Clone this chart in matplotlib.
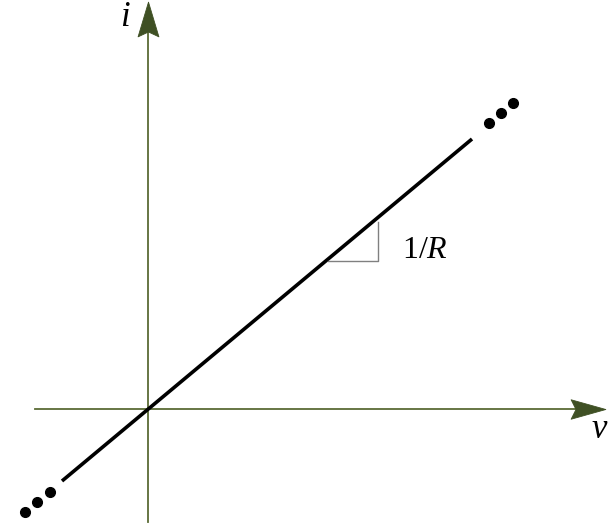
import matplotlib
matplotlib.use("Agg")
import matplotlib.pyplot as plt
from matplotlib.path import Path

plt.rcParams['font.family'] = ['Liberation Serif', 'DejaVu Serif']
plt.rcParams['mathtext.fontset'] = 'custom'
plt.rcParams['mathtext.rm'] = 'Liberation Serif'
plt.rcParams['mathtext.it'] = 'Liberation Serif:italic'

# resistor i-v characteristic, slope 1/R
line_v = [-0.86, 3.24]
line_i = [-0.72, 2.70]

# continuation dots
dots_hi_v = [3.41, 3.53, 3.65]
dots_hi_i = [2.86, 2.96, 3.06]
dots_lo_v = [-0.98, -1.11, -1.23]
dots_lo_i = [-0.83, -0.93, -1.03]

# slope triangle
tri_v = [1.80, 2.30, 2.30]
tri_i = [1.48, 1.48, 1.87]

# axis extents (arrow tips)
v_axis = [-1.13, 4.57]
i_axis = [-1.13, 4.07]

axis_col = "#5a6b35"
head_col = "#3f5024"

# stealth-style arrowheads as custom markers
up_head = Path([(0, 1), (-0.6, -1), (0, -0.72), (0.6, -1), (0, 1)],
               [Path.MOVETO, Path.LINETO, Path.LINETO, Path.LINETO, Path.CLOSEPOLY])
right_head = Path([(1, 0), (-1, 0.56), (-0.72, 0), (-1, -0.56), (1, 0)],
                  [Path.MOVETO, Path.LINETO, Path.LINETO, Path.LINETO, Path.CLOSEPOLY])

fig = plt.figure(figsize=(6.15, 5.24), dpi=100)
ax = fig.add_axes([0, 0, 1, 1])
ax.set_xlim(-1.48, 4.67)
ax.set_ylim(-1.15, 4.09)
ax.axis("off")

# axes lines with arrowheads
ax.plot([v_axis[0], v_axis[1] - 0.2], [0, 0], color=axis_col, lw=1.3)
ax.plot([0, 0], [i_axis[0], i_axis[1] - 0.2], color=axis_col, lw=1.3)
ax.plot(v_axis[1] - 0.17, 0, marker=right_head, ms=25, color=head_col, mew=0.6)
ax.plot(0, i_axis[1] - 0.17, marker=up_head, ms=25, color=head_col, mew=0.6)

# the characteristic
ax.plot(line_v, line_i, color="black", lw=2.6, solid_capstyle="butt")
ax.plot(dots_hi_v, dots_hi_i, "o", color="black", ms=7)
ax.plot(dots_lo_v, dots_lo_i, "o", color="black", ms=7)

# slope triangle
ax.plot(tri_v, tri_i, color="#808080", lw=1.0)
ax.text(2.54, 1.59, r"1/$R$", fontsize=23, va="center", ha="left")

ax.text(-0.23, 3.92, "i", fontsize=25, style="italic", ha="center", va="center")
ax.text(4.51, -0.20, "v", fontsize=25, style="italic", ha="center", va="center")

fig.savefig("out.png", dpi=100)
